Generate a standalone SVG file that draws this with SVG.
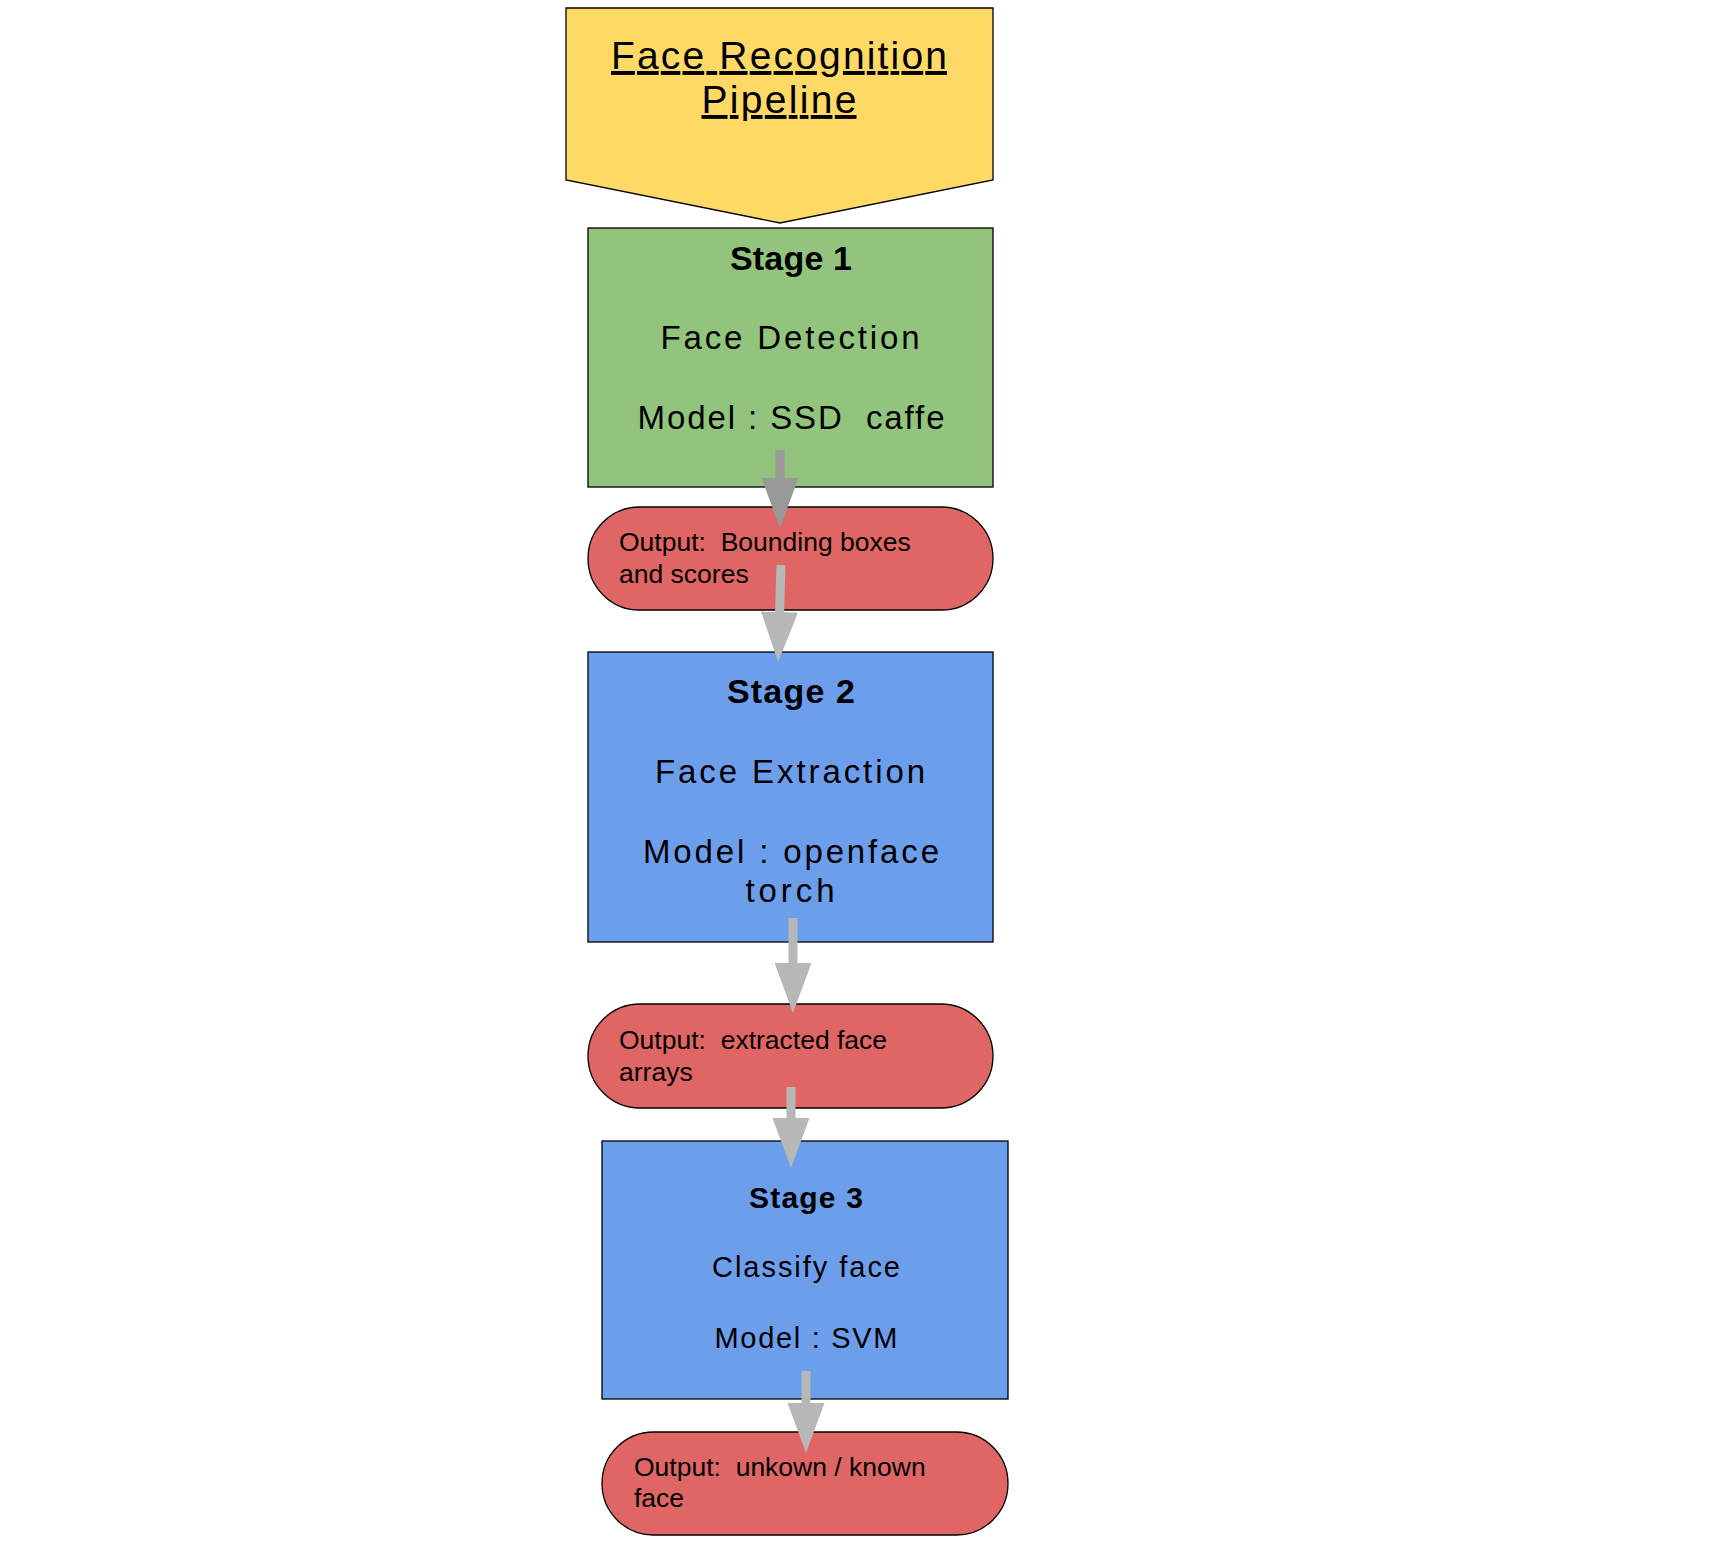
<svg xmlns="http://www.w3.org/2000/svg" width="1736" height="1542" viewBox="0 0 1736 1542">
<style>
.stroke{stroke:#000;stroke-width:1.3}
.title{font-family:"Liberation Sans",Arial,sans-serif;font-size:39px;fill:#000;text-anchor:middle;text-decoration:underline}
.stage{font-family:"Liberation Sans",Arial,sans-serif;font-weight:bold;font-size:34px;fill:#000;text-anchor:middle}
.body{font-family:"Liberation Sans",Arial,sans-serif;font-size:33px;fill:#000;text-anchor:middle}
.stage3{font-family:"Liberation Sans",Arial,sans-serif;font-weight:bold;font-size:30px;fill:#000;text-anchor:middle}
.body3{font-family:"Liberation Sans",Arial,sans-serif;font-size:29px;fill:#000;text-anchor:middle}
.out{font-family:"Liberation Sans",Arial,sans-serif;font-size:26.5px;fill:#000;white-space:pre}
.arr{fill:none;stroke-width:9}
</style>
<defs>
<marker id="headDark" viewBox="0 0 50 37" refX="2" refY="18.5" markerWidth="50" markerHeight="37" markerUnits="userSpaceOnUse" orient="auto"><path d="M0,0 L50,18.5 L0,37 Z" fill="#999999"/></marker>
<marker id="headLight" viewBox="0 0 50 37" refX="2" refY="18.5" markerWidth="50" markerHeight="37" markerUnits="userSpaceOnUse" orient="auto"><path d="M0,0 L50,18.5 L0,37 Z" fill="#b7b7b7"/></marker>
</defs>
<rect width="1736" height="1542" fill="#ffffff"/>
<g id="title">
<polygon class="stroke" points="566,8 993,8 993,180 780,223 566,180" fill="#ffd966"/>
<text class="title" x="779" y="69" textLength="336" lengthAdjust="spacing">Face Recognition</text>
<text class="title" x="779" y="113" textLength="155" lengthAdjust="spacing">Pipeline</text>
</g>
<g id="stage1">
<rect class="stroke" x="588" y="228" width="405" height="259" fill="#93c47d"/>
<text class="stage" x="791" y="270" textLength="122" lengthAdjust="spacing">Stage 1</text>
<text class="body" x="790" y="349" textLength="259" lengthAdjust="spacing">Face Detection</text>
<text class="body" x="791" y="429" textLength="307" lengthAdjust="spacing" xml:space="preserve">Model : SSD  caffe</text>
</g>
<g id="output1">
<rect class="stroke" x="588" y="507" width="405" height="103" rx="51.5" ry="51.5" fill="#e06666"/>
<text class="out" x="619" y="551" xml:space="preserve">Output:  Bounding boxes</text>
<text class="out" x="619" y="583">and scores</text>
</g>
<g id="stage2">
<rect class="stroke" x="588" y="652" width="405" height="290" fill="#6d9eeb"/>
<text class="stage" x="791" y="703" textLength="128" lengthAdjust="spacing">Stage 2</text>
<text class="body" x="790" y="783" textLength="270" lengthAdjust="spacing">Face Extraction</text>
<text class="body" x="791" y="863" textLength="296" lengthAdjust="spacing">Model : openface</text>
<text class="body" x="790" y="902" textLength="89" lengthAdjust="spacing">torch</text>
</g>
<g id="output2">
<rect class="stroke" x="588" y="1004" width="405" height="104" rx="52" ry="52" fill="#e06666"/>
<text class="out" x="619" y="1049" xml:space="preserve">Output:  extracted face</text>
<text class="out" x="619" y="1081">arrays</text>
</g>
<g id="stage3">
<rect class="stroke" x="602" y="1141" width="406" height="258" fill="#6d9eeb"/>
<text class="stage3" x="806" y="1208" textLength="114" lengthAdjust="spacing">Stage 3</text>
<text class="body3" x="806" y="1277" textLength="188" lengthAdjust="spacing">Classify face</text>
<text class="body3" x="806" y="1348" textLength="183" lengthAdjust="spacing">Model : SVM</text>
</g>
<g id="output3">
<rect class="stroke" x="602" y="1432" width="406" height="103" rx="51.5" ry="51.5" fill="#e06666"/>
<text class="out" x="634" y="1476" xml:space="preserve">Output:  unkown / known</text>
<text class="out" x="634" y="1507">face</text>
</g>
<g id="connectors">
<path class="arr" d="M780,450 L780,480" stroke="#999999" marker-end="url(#headDark)"/>
<path class="arr" d="M781,565 L779.5,614" stroke="#b7b7b7" marker-end="url(#headLight)"/>
<path class="arr" d="M793,918 L793,965" stroke="#b7b7b7" marker-end="url(#headLight)"/>
<path class="arr" d="M791,1087 L791,1120" stroke="#b7b7b7" marker-end="url(#headLight)"/>
<path class="arr" d="M806,1371 L806,1405" stroke="#b7b7b7" marker-end="url(#headLight)"/>
</g>
</svg>
